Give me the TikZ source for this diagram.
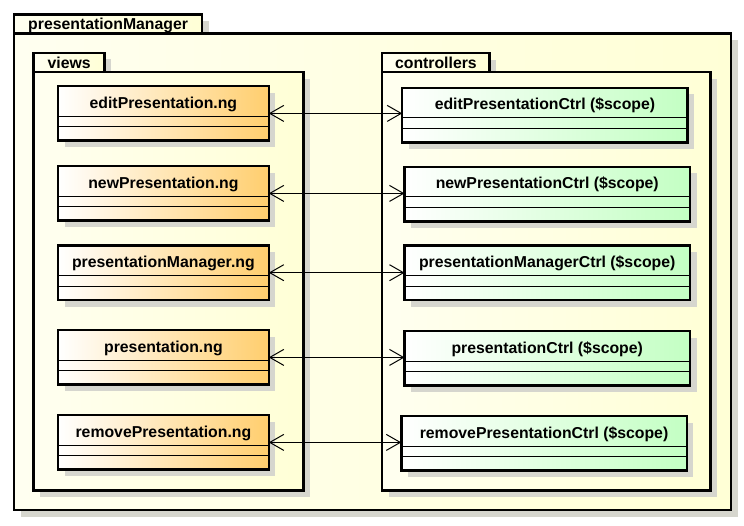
\documentclass[tikz,border=0pt]{standalone}
\usepackage{fontspec}
\setmainfont{Liberation Sans}
\usetikzlibrary{arrows.meta,shadows}
\definecolor{pkgA}{RGB}{255,255,240}
\definecolor{pkgB}{RGB}{255,255,214}
\definecolor{orangeR}{RGB}{255,206,110}
\definecolor{greenR}{RGB}{195,255,195}
\definecolor{shadowc}{RGB}{214,214,206}
\tikzset{
  shad/.style={drop shadow={fill=shadowc, opacity=1, shadow xshift=6.5pt, shadow yshift=-6.5pt}},
  pkg/.style={draw=black, line width=2.5pt, left color=pkgA, right color=pkgB, shad},
  tabtext/.style={font=\fontsize{15.8}{18}\selectfont\bfseries, inner sep=0pt},
  cls/.style={draw=black, line width=2.5pt, shad, outer sep=0pt, inner xsep=0pt, inner ysep=0pt,
    text height=22pt, text depth=32.5pt, minimum height=54.5pt,
    font=\fontsize{15.8}{18}\selectfont\bfseries},
  viewcls/.style={cls, minimum width=210.8pt, left color=white, right color=orangeR},
  ctrlcls/.style={cls, minimum width=285.5pt, left color=white, right color=greenR},
  comp/.style={draw=black, line width=1pt},
  assoc/.style={draw=black, line width=1pt,
    {Straight Barb[length=14pt,width=16pt]}-{Straight Barb[length=14pt,width=16pt]}}
}
\begin{document}
\begin{tikzpicture}[x=1pt,y=-1pt]
\useasboundingbox (0,0) rectangle (744,525);
% outer package
\draw[pkg] (14.2,14.3) rectangle (202,33.5);
\draw[pkg] (14.2,33.5) rectangle (731,510);
\node[tabtext, anchor=base] (tpm) at (108.1,29.3) {presentationManager};
% views package
\draw[pkg] (33.7,52.8) rectangle (104.5,72.2);
\draw[pkg] (33.7,72.2) rectangle (303.3,490.5);
\node[tabtext, anchor=base] (tviews) at (69.1,68.3) {views};
% controllers package
\draw[pkg] (382,53) rectangle (489.7,72.2);
\draw[pkg] (382,72.2) rectangle (710.3,490.5);
\node[tabtext, anchor=base] (tctrl) at (435.9,68.5) {controllers};
% view classes
\node[viewcls, anchor=north west] (v1) at (58,86.2) {editPresentation.ng};
\node[viewcls, anchor=north west] (v2) at (58,166.2) {newPresentation.ng};
\node[viewcls, anchor=north west] (v3) at (58,245.5) {presentationManager.ng};
\node[viewcls, anchor=north west] (v4) at (58,330.2) {presentation.ng};
\node[viewcls, anchor=north west] (v5) at (58,415.2) {removePresentation.ng};
% controller classes
\node[ctrlcls, anchor=north west] (c1) at (402.2,87.8) {editPresentationCtrl (\$scope)};
\node[ctrlcls, anchor=north west] (c2) at (404.5,166.8) {newPresentationCtrl (\$scope)};
\node[ctrlcls, anchor=north west] (c3) at (404.5,245.5) {presentationManagerCtrl (\$scope)};
\node[ctrlcls, anchor=north west] (c4) at (404.5,331.2) {presentationCtrl (\$scope)};
\node[ctrlcls, anchor=north west] (c5) at (401.3,416.2) {removePresentationCtrl (\$scope)};
% compartments
\foreach \n in {v1,v2,v3,v4,v5,c1,c2,c3,c4,c5}{
  \draw[comp] ([yshift=-30pt]\n.north west) -- ([yshift=-30pt]\n.north east);
  \draw[comp] ([yshift=-40.5pt]\n.north west) -- ([yshift=-40.5pt]\n.north east);
}
% associations
\foreach \i in {1,...,5}{
  \coordinate (a\i) at ([yshift=-27.2pt]v\i.north east);
  \draw[assoc] (a\i) -- (a\i -| c\i.west);
}
\end{tikzpicture}
\end{document}
